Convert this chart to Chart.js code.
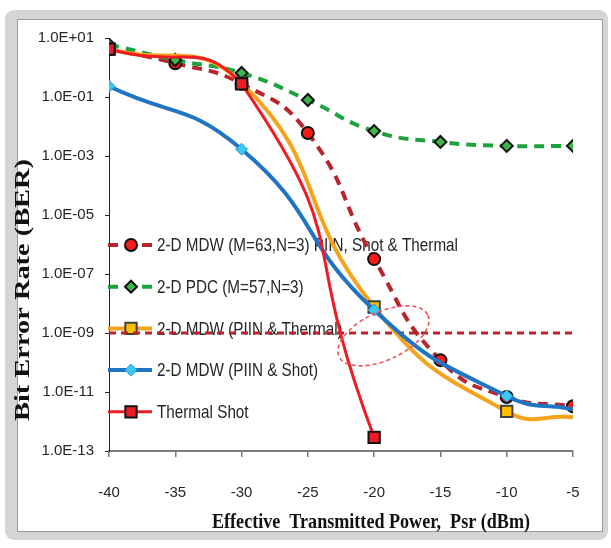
<!DOCTYPE html>
<html>
<head>
<meta charset="utf-8">
<script src="https://cdn.jsdelivr.net/npm/chart.js@4.4.1/dist/chart.umd.min.js"></script>
<style>
    html, body { margin: 0; padding: 0; background: #fff; }
    #wrap { position: relative; width: 611px; height: 548px; overflow: hidden; }
    #frame { position: absolute; left: 5px; top: 10px; width: 603px; height: 530px; background: #d5d5d5; border-radius: 9px; }
    #panel { position: absolute; left: 12px; top: 9px; right: 5px; bottom: 8px; background: #fff; border: 1px solid #9c9c9c; }
    #grafico { position: absolute; left: 0; top: 0; }
</style>
</head>
<body>
<div id="wrap">
    <div id="frame"><div id="panel"></div></div>
    <canvas id="grafico" width="611" height="548"></canvas>
</div>
<script>
// potencia efectiva transmitida (dBm)
const potencias = [-40, -35, -30, -25, -20, -15, -10, -5];
const potenciasMDW = [-40, -30, -20, -10, -5];
const potenciasTermico = [-40, -30, -20];

// BER
const berMDW63 = [4.2, 1.4, 0.28, 6e-3, 3.2e-7, 1.2e-10, 6.8e-12, 3.3e-12];
const berPDC = [6, 1.8, 0.65, 0.079, 7e-3, 3e-3, 2.2e-3, 2.2e-3];
const berPiinTermico = [4.2, 0.3, 7.6e-9, 2.2e-12, 1.4e-12];
const berPiinShot = [0.23, 1.7e-3, 6e-9, 7.3e-12, 2.6e-12];
const berTermicoShot = [4.2, 0.28, 2.9e-13];

const umbralX = [-40, -5];
const umbralBER = [1e-9, 1e-9];

const ticksY = [1e1, 1e-1, 1e-3, 1e-5, 1e-7, 1e-9, 1e-11, 1e-13];

const etiquetas = [
    '2-D MDW (M=63,N=3) PIIN, Shot & Thermal',
    '2-D PDC (M=57,N=3)',
    '2-D MDW (PIIN & Thermal)',
    '2-D MDW (PIIN & Shot)',
    'Thermal Shot'
];
const tituloX = 'Effective  Transmitted Power,  Psr (dBm)';
const tituloY = 'Bit Error Rate (BER)';

// centro de la elipse marcada (valores de datos)
const elipseCentro = { x: -19.3, y: 8e-10 };

function pares(xs, ys) {
    return xs.map((x, i) => ({ x, y: ys[i] }));
}

function formatoE(v) {
    const exp = Math.round(Math.log10(v));
    const signo = exp < 0 ? '-' : '+';
    const abs = String(Math.abs(exp)).padStart(2, '0');
    return '1.0E' + signo + abs;
}

// texto comprimido a un ancho dado (el original esta estrechado)
function textoAjustado(ctx, texto, x, y, ancho, rot) {
    ctx.save();
    ctx.translate(x, y);
    ctx.rotate(rot);
    const w = ctx.measureText(texto).width;
    ctx.scale(ancho / w, 1);
    ctx.fillText(texto, 0, 0);
    ctx.restore();
}

const leyendaPlugin = {
    id: 'leyendaInterna',
    beforeDatasetsDraw(chart) {
        const ctx = chart.ctx;
        const x0 = 108, x1 = 152, xm = 131, xt = 157;
        const y0 = 245, paso = 41.7;
        ctx.save();
        ctx.font = '19px "Liberation Sans", sans-serif';
        const sx = 301 / ctx.measureText(etiquetas[0]).width;
        etiquetas.forEach((txt, i) => {
            const ds = chart.data.datasets[i];
            const y = y0 + i * paso;
            ctx.strokeStyle = ds.borderColor;
            ctx.lineWidth = ds.borderWidth;
            ctx.setLineDash(ds.borderDash || []);
            ctx.beginPath();
            ctx.moveTo(x0, y);
            ctx.lineTo(x1, y);
            ctx.stroke();
            ctx.setLineDash([]);
            ctx.fillStyle = ds.pointBackgroundColor;
            ctx.strokeStyle = ds.pointBorderColor;
            ctx.lineWidth = ds.pointBorderWidth;
            Chart.helpers.drawPoint(ctx, {
                pointStyle: ds.pointStyle,
                radius: ds.pointStyle === 'rect' ? 8 : 6,
                rotation: 0,
                borderWidth: ds.pointBorderWidth
            }, xm, y);
            ctx.fillStyle = '#262626';
            ctx.textBaseline = 'middle';
            ctx.textAlign = 'left';
            ctx.save();
            ctx.translate(xt, y + 1);
            ctx.scale(sx, 1);
            ctx.fillText(txt, 0, 0);
            ctx.restore();
        });
        ctx.restore();
    },
    afterDatasetsDraw(chart) {
        const ctx = chart.ctx;
        const cx = chart.scales.x.getPixelForValue(elipseCentro.x);
        const cy = chart.scales.y.getPixelForValue(elipseCentro.y);
        ctx.save();
        ctx.strokeStyle = '#f0505a';
        ctx.lineWidth = 1.6;
        ctx.setLineDash([4, 3]);
        ctx.beginPath();
        ctx.ellipse(cx, cy, 49, 24, -25 * Math.PI / 180, 0, Math.PI * 2);
        ctx.stroke();
        ctx.restore();
    },
    afterDraw(chart) {
        const ctx = chart.ctx;
        ctx.save();
        ctx.fillStyle = '#111';
        ctx.textAlign = 'center';
        ctx.textBaseline = 'middle';
        ctx.font = 'bold 22px "Liberation Serif", serif';
        textoAjustado(ctx, tituloX, 371, 522, 318, 0);
        ctx.font = 'bold 22px "Liberation Serif", serif';
        textoAjustado(ctx, tituloY, 23, 290, 262, -Math.PI / 2);
        ctx.restore();
    }
};

const datasets = [
    {
        label: etiquetas[0],
        data: pares(potencias, berMDW63),
        borderColor: '#b8242c',
        borderWidth: 4,
        borderDash: [10, 7],
        pointStyle: 'circle',
        pointRadius: 6,
        pointBackgroundColor: '#ff1a1a',
        pointBorderColor: '#111',
        pointBorderWidth: 2,
        order: 4
    },
    {
        label: etiquetas[1],
        data: pares(potencias, berPDC),
        borderColor: '#1ea23c',
        borderWidth: 4,
        borderDash: [10, 7],
        pointStyle: 'rectRot',
        pointRadius: 6,
        pointBackgroundColor: '#3db54a',
        pointBorderColor: '#111',
        pointBorderWidth: 2,
        order: 3
    },
    {
        label: etiquetas[2],
        data: pares(potenciasMDW, berPiinTermico),
        borderColor: '#f7a21b',
        borderWidth: 4,
        pointStyle: 'rect',
        pointRadius: [8, 8, 8, 8, 0],
        pointBackgroundColor: '#ffc000',
        pointBorderColor: '#404040',
        pointBorderWidth: 2,
        order: 2
    },
    {
        label: etiquetas[3],
        data: pares(potenciasMDW, berPiinShot),
        borderColor: '#1f74c4',
        borderWidth: 4,
        pointStyle: 'rectRot',
        pointRadius: [6, 6, 6, 6, 0],
        pointBackgroundColor: '#3cc8f0',
        pointBorderColor: '#2a9ad6',
        pointBorderWidth: 1,
        order: 1
    },
    {
        label: etiquetas[4],
        data: pares(potenciasTermico, berTermicoShot),
        borderColor: '#ee1c25',
        borderWidth: 3,
        tension: 0.6,
        pointStyle: 'rect',
        pointRadius: 8,
        pointBackgroundColor: '#ee1c25',
        pointBorderColor: '#111',
        pointBorderWidth: 2,
        order: 0
    },
    {
        label: 'umbral',
        data: pares(umbralX, umbralBER),
        borderColor: '#b8242c',
        borderWidth: 3,
        borderDash: [7, 5],
        pointRadius: 0,
        tension: 0,
        order: 5
    }
];

const fuenteTicks = { family: '"Liberation Sans", sans-serif', size: 15 };

window.grafico = new Chart(document.getElementById('grafico'), {
    type: 'line',
    data: { datasets },
    options: {
        responsive: false,
        animation: false,
        layout: { padding: { top: 38, right: 38, left: 0, bottom: 0 } },
        elements: { line: { tension: 0.5 } },
        plugins: {
            legend: { display: false },
            tooltip: { enabled: false }
        },
        scales: {
            x: {
                type: 'linear',
                min: -40,
                max: -5,
                afterFit: s => { s.height = 97; },
                border: { color: '#7a7a7a', width: 2 },
                grid: { drawOnChartArea: false, drawTicks: true, tickLength: 6, color: '#7a7a7a', lineWidth: 1.5 },
                ticks: { stepSize: 5, padding: 27, color: '#262626', font: fuenteTicks }
            },
            y: {
                type: 'logarithmic',
                min: 1e-13,
                max: 10,
                afterFit: s => { s.width = 109; },
                afterBuildTicks: s => { s.ticks = ticksY.map(v => ({ value: v })); },
                border: { color: '#222', width: 1 },
                grid: { drawOnChartArea: false, drawTicks: true, tickLength: 4, color: '#222' },
                ticks: { padding: 11, color: '#262626', font: fuenteTicks, callback: v => formatoE(v) }
            }
        }
    },
    plugins: [leyendaPlugin]
});
</script>
</body>
</html>
